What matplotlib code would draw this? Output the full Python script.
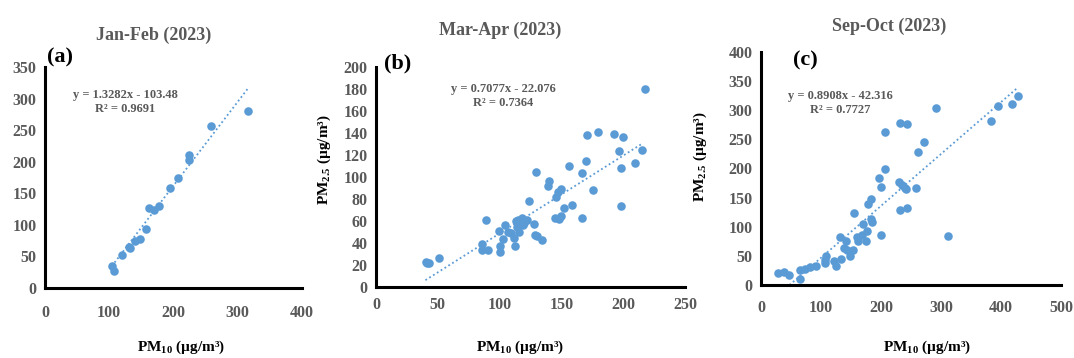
import matplotlib
matplotlib.use("Agg")
import matplotlib.pyplot as plt
import numpy as np

plt.rcParams["font.family"] = ["Liberation Serif", "DejaVu Serif"]
plt.rcParams["font.weight"] = "bold"

# Jan-Feb (2023)
jf_pm10 = [104, 108, 120, 131, 132, 140, 148, 157, 162, 169, 178, 194, 207, 224, 224, 259, 316]
jf_pm25 = [35, 27, 52, 65, 63, 74, 78, 94, 127, 123, 130, 159, 174, 210, 202, 257, 280]

# Mar-Apr (2023)
ma_pm10 = [40.8, 43, 41.5, 51, 85.6, 85.6, 88.6, 90.5, 100, 100, 99.5, 102.7, 104, 107, 109.5,
           112.5, 112, 113, 114, 115.5, 115, 118, 119, 120, 122, 123.6, 127.5, 128.6, 129.4, 130,
           134.5, 139, 140, 144.8, 145.6, 147, 148, 149.7, 150, 152.4, 156.5, 158.4, 166.6, 166.6,
           170, 170.6, 175.5, 179.6, 192.7, 196.5, 198.6, 198.6, 199.7, 209.5, 215.5, 218]
ma_pm25 = [23, 22, 22, 26, 39, 34, 61, 34, 37, 32, 51, 44, 56, 50, 49,
           37, 45, 60, 55, 50, 61, 63, 56, 58, 61, 78, 57, 47, 105, 46,
           43, 92, 96, 63, 82, 86, 62, 89, 65, 72, 110, 75, 104, 63,
           115, 138, 88, 141, 139, 124, 108, 74, 136, 113, 125, 180]

# Sep-Oct (2023)
so_pm10 = [28, 39, 47, 65.5, 65.5, 74, 82, 92, 107, 108, 107, 122, 125, 131, 134, 139, 141, 143,
           148, 153, 155, 160, 161, 168, 170, 175, 177, 178, 183, 185, 184, 197, 200, 200, 206, 207,
           230, 232, 232, 235, 240, 242, 243, 244, 258, 262, 271, 291, 312, 384, 395, 418, 429]
so_pm25 = [20, 22, 18, 26, 11, 28, 31, 33, 37, 49, 43, 42, 33, 82, 44, 63, 75, 60,
           49, 60, 123, 83, 76, 85, 105, 76, 92, 139, 148, 109, 113, 183, 169, 86, 262, 200,
           177, 278, 128, 171, 167, 164, 277, 132, 166, 229, 246, 304, 84, 282, 308, 310, 325]

titles = ["Jan-Feb (2023)", "Mar-Apr (2023)", "Sep-Oct (2023)"]
letters = ["(a)", "(b)", "(c)"]
equations = ["y = 1.3282x - 103.48\nR² = 0.9691",
             "y = 0.7077x - 22.076\nR² = 0.7364",
             "y = 0.8908x - 42.316\nR² = 0.7727"]
slopes = [1.3282, 0.7077, 0.8908]
intercepts = [-103.48, -22.076, -42.316]
fit_range = [(104, 316), (40, 216), (47.5, 428)]
xlims = [400, 250, 500]
ylims = [350, 200, 400]
xsteps = [100, 50, 100]
ysteps = [50, 20, 50]

blue = "#5B9BD5"
gray = "#595959"
W, H = 1074, 358

# axes boxes in pixels: left, right, bottom, top
boxes = [(45, 302, 288, 67), (376, 685, 287, 67), (761, 1061, 285, 52)]
xpads = [12, 7, 11]
title_pos = [(154, 35), (500, 30), (889, 26)]
letter_pos = [(47, 57), (384, 63), (793, 60)]
eq_pos = [(125, 102), (503, 96), (840, 103)]
ylab_pos = [None, (324, 160), (700, 157)]
xlab_pos = [(181, 347), (520, 347), (927, 347)]

fig = plt.figure(figsize=(10.74, 3.58), dpi=100)
data = [(jf_pm10, jf_pm25), (ma_pm10, ma_pm25), (so_pm10, so_pm25)]

for i, (xs, ys) in enumerate(data):
    l, r, b, t = boxes[i]
    ax = fig.add_axes([l / W, 1 - b / H, (r - l) / W, (b - t) / H])
    ax.scatter(xs, ys, s=38, color=blue, zorder=3, clip_on=False, linewidths=0)
    fx = np.array(fit_range[i])
    ax.plot(fx, slopes[i] * fx + intercepts[i], ls=(0, (1, 1.5)), color=blue, lw=1.3)
    ax.set_xlim(0, xlims[i])
    ax.set_ylim(0, ylims[i])
    ax.set_xticks(np.arange(0, xlims[i] + 1, xsteps[i]))
    ax.set_yticks(np.arange(0, ylims[i] + 1, ysteps[i]))
    for s in ["top", "right"]:
        ax.spines[s].set_visible(False)
    for s in ["left", "bottom"]:
        ax.spines[s].set_linewidth(2.2)
        ax.spines[s].set_color("black")
    ax.tick_params(axis="both", length=0, labelsize=11.5, labelcolor=gray)
    ax.tick_params(axis="x", pad=xpads[i])
    ax.tick_params(axis="y", pad=6)

    fig.text(title_pos[i][0] / W, 1 - title_pos[i][1] / H, titles[i], ha="center", va="center",
             fontsize=13, color=gray, fontweight="bold")
    fig.text(letter_pos[i][0] / W, 1 - letter_pos[i][1] / H, letters[i], ha="left", va="center",
             fontsize=16, color="black", fontweight="bold")
    fig.text(eq_pos[i][0] / W, 1 - eq_pos[i][1] / H, equations[i], ha="center", va="center",
             fontsize=9, color=gray, fontweight="bold", linespacing=1.2)
    fig.text(xlab_pos[i][0] / W, 1 - xlab_pos[i][1] / H, r"PM$_{\mathregular{10}}$ (µg/m³)",
             ha="center", va="center", fontsize=11, color="black", fontweight="bold")
    if ylab_pos[i] is not None:
        fig.text(ylab_pos[i][0] / W, 1 - ylab_pos[i][1] / H, r"PM$_{\mathregular{2.5}}$ (µg/m³)",
                 ha="center", va="center", rotation=90, fontsize=11, color="black",
                 fontweight="bold")

fig.savefig("out.png", dpi=100)
